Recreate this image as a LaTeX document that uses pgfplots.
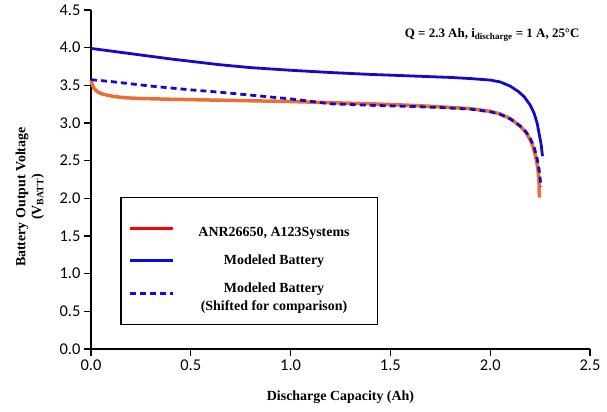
\documentclass[border=0pt]{standalone}
\usepackage{pgfplots}
\pgfplotsset{compat=1.18}
\usepackage{fontspec}
\setmainfont{Liberation Serif}
\newfontfamily\tickfont{Carlito}
\definecolor{myorange}{RGB}{236,110,50}
\definecolor{myblue}{RGB}{20,10,200}
\definecolor{legred}{RGB}{255,0,0}
\definecolor{legblue}{RGB}{10,10,240}
\begin{document}
\begin{tikzpicture}
\begin{axis}[
  at={(0,0)}, anchor=south west,
  width=499bp, height=339bp, scale only axis,
  xmin=0, xmax=2.5, ymin=0, ymax=4.5,
  axis x line*=bottom, axis y line*=left,
  axis line style={-},
  x axis line style={line width=1.3bp},
  y axis line style={line width=2bp},
  xtick={0,0.5,...,2.5}, ytick={0,0.5,...,4.5},
  tick align=outside, major tick length=7bp,
  tick style={line width=1.3bp, black},
  /pgf/number format/.cd, fixed, fixed zerofill, precision=1, assume math mode=true,
  /pgfplots/.cd,
  tick label style={font=\tickfont\fontsize{16.5}{16.5}\selectfont},
  xlabel={Discharge Capacity (Ah)},
  ylabel={\shortstack{Battery Output Voltage\\(V\textsubscript{BATT})}},
  label style={font=\bfseries\fontsize{14}{16}\selectfont},
  xlabel style={at={(axis description cs:0.5,0)}, anchor=center, yshift=-48bp},
  ylabel style={at={(axis description cs:0,0.448)}, anchor=center, xshift=0bp, yshift=61bp},
  clip=false,
  legend style={at={(0.0587,0.449)}, anchor=north west, draw=black, line width=1.5bp,
    font=\bfseries\fontsize{14}{18}\selectfont, inner xsep=8bp, inner ysep=19bp,
    row sep=13bp, column sep=4bp},
  legend cell align=center,
  legend image code/.code={\draw[#1] (0bp,0bp) -- (43bp,0bp);},
]
\addlegendimage{legred, line width=2.5bp}
\addlegendentry{\rule{0pt}{18bp}\makebox[187bp]{ANR26650, A123Systems}}
\addlegendimage{legblue, line width=2.5bp}
\addlegendentry{\makebox[187bp]{Modeled Battery}}
\addlegendimage{legblue, line width=2.5bp, dash pattern=on 6bp off 4bp}
\addlegendentry{\parbox{187bp}{\centering Modeled Battery\\(Shifted for comparison)}}

\addplot[myorange, line width=3.5bp, forget plot] coordinates {
(0,3.57) (0.005,3.52) (0.015,3.46) (0.03,3.42) (0.05,3.39) (0.08,3.37) (0.12,3.35) (0.17,3.335) (0.25,3.325) (0.4,3.315) (0.6,3.305) (0.8,3.295) (1.0,3.285) (1.2,3.27) (1.4,3.255) (1.6,3.235) (1.75,3.215) (1.9,3.19) (2.0,3.155) (2.05,3.12) (2.1,3.06) (2.15,2.96) (2.18,2.87) (2.2,2.78) (2.215,2.68) (2.227,2.56) (2.236,2.44) (2.242,2.32) (2.245,2.18) (2.246,2.01)
};
\addplot[myblue, line width=2.8bp, dash pattern=on 6bp off 4bp, forget plot] coordinates {
(0,3.575) (0.1,3.55) (0.3,3.49) (0.5,3.44) (0.64,3.41) (0.8,3.37) (1.0,3.32) (1.2,3.255) (1.4,3.235) (1.6,3.22) (1.75,3.205) (1.9,3.185) (2.0,3.15) (2.05,3.115) (2.1,3.055) (2.15,2.96) (2.18,2.88) (2.2,2.80) (2.22,2.68) (2.235,2.53) (2.245,2.38) (2.25,2.26) (2.255,2.15)
};
\addplot[myblue, line width=2.8bp, forget plot] coordinates {
(0,3.99) (0.2,3.92) (0.4,3.85) (0.64,3.775) (0.8,3.735) (1.0,3.70) (1.2,3.67) (1.4,3.645) (1.6,3.625) (1.8,3.605) (1.9,3.59) (2.0,3.57) (2.05,3.545) (2.1,3.49) (2.14,3.42) (2.17,3.35) (2.2,3.24) (2.22,3.13) (2.235,3.0) (2.245,2.86) (2.255,2.72) (2.262,2.56)
};
\node[font=\bfseries\fontsize{13}{15}\selectfont] at (axis cs:2.01,4.17) {Q = 2.3 Ah, i\textsubscript{discharge} = 1 A, 25°C};
\end{axis}
\pgfresetboundingbox
\useasboundingbox (-91bp,-63bp) rectangle (516bp,349bp);
\end{tikzpicture}
\end{document}
